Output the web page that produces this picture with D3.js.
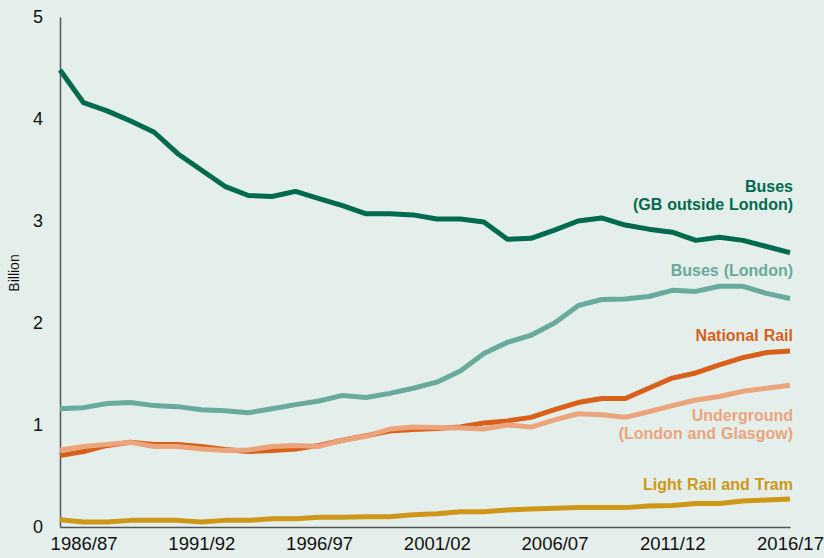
<!DOCTYPE html>
<html>
<head>
<meta charset="utf-8">
<script src="https://cdn.jsdelivr.net/npm/d3@7"></script>
<style>
  html, body { margin: 0; padding: 0; background: #e4efeb; }
  svg { display: block; }
  text { font-family: "Liberation Sans", Arial, sans-serif; }
</style>
</head>
<body>
<svg id="chart" width="824" height="558"></svg>
<script>
// Years 1985/86 .. 2016/17
const years = ["1985/86","1986/87","1987/88","1988/89","1989/90","1990/91","1991/92","1992/93","1993/94","1994/95",
  "1995/96","1996/97","1997/98","1998/99","1999/00","2000/01","2001/02","2002/03","2003/04","2004/05",
  "2005/06","2006/07","2007/08","2008/09","2009/10","2010/11","2011/12","2012/13","2013/14","2014/15",
  "2015/16","2016/17"];
const tickLabels = ["1986/87","1991/92","1996/97","2001/02","2006/07","2011/12","2016/17"];
const yTicks = [0,1,2,3,4,5];

const busesGB = [4.48,4.16,4.08,3.98,3.87,3.66,3.50,3.34,3.25,3.24,3.29,3.22,3.15,3.07,3.07,3.06,
  3.02,3.02,2.99,2.82,2.83,2.91,3.00,3.03,2.96,2.92,2.89,2.81,2.84,2.81,2.75,2.69];
const busesLondon = [1.16,1.17,1.21,1.22,1.19,1.18,1.15,1.14,1.12,1.16,1.20,1.235,1.29,1.27,1.31,1.36,
  1.42,1.53,1.70,1.81,1.88,2.00,2.17,2.23,2.235,2.26,2.32,2.31,2.36,2.36,2.29,2.24];
const nationalRail = [0.70,0.74,0.80,0.83,0.81,0.81,0.79,0.76,0.74,0.75,0.765,0.80,0.85,0.895,0.94,0.955,
  0.965,0.98,1.02,1.04,1.075,1.15,1.22,1.26,1.26,1.36,1.46,1.51,1.59,1.66,1.71,1.725];
const underground = [0.755,0.79,0.81,0.83,0.79,0.79,0.765,0.75,0.755,0.79,0.80,0.79,0.85,0.89,0.96,0.98,
  0.975,0.97,0.96,1.00,0.98,1.05,1.11,1.10,1.075,1.13,1.19,1.245,1.28,1.33,1.36,1.39];
const lightRail = [0.07,0.05,0.05,0.065,0.065,0.065,0.05,0.065,0.065,0.08,0.08,0.095,0.095,0.10,0.10,0.12,
  0.13,0.15,0.15,0.167,0.176,0.183,0.19,0.19,0.19,0.205,0.21,0.23,0.23,0.255,0.265,0.275];

const seriesNames = ["Light Rail and Tram","National Rail","Underground","Buses (London)","Buses (GB outside London)"];
const seriesData = [lightRail, nationalRail, underground, busesLondon, busesGB];
const seriesColors = ["#cf9718","#d8601b","#eca47c","#68aa9b","#006a4f"];
const labelLines = [["Light Rail and Tram"],["National Rail"],["Underground","(London and Glasgow)"],["Buses (London)"],["Buses","(GB outside London)"]];
const labelBaselines = [490, 341, 421, 276, 192];

const svg = d3.select("#chart");
const x = d3.scalePoint().domain(years).range([60, 790]);
const y = d3.scaleLinear().domain([0, 5]).range([527, 17]);

// axes
const xAxis = svg.append("g").attr("transform", "translate(0,527)")
  .call(d3.axisBottom(x).tickValues(tickLabels).tickSize(0).tickPadding(10));
xAxis.select(".domain").attr("stroke", "#555").attr("stroke-width", 1.5);
xAxis.selectAll("text").attr("font-size", "18.5px").attr("fill", "#111")
  .style("font-family", "'Liberation Sans', Arial, sans-serif");

const yAxis = svg.append("g").attr("transform", "translate(60,0)")
  .call(d3.axisLeft(y).tickValues(yTicks).tickSize(0).tickPadding(17).tickFormat(d3.format("d")));
yAxis.select(".domain").attr("stroke", "#555").attr("stroke-width", 1.5);
yAxis.selectAll("text").attr("font-size", "18px").attr("fill", "#111")
  .style("font-family", "'Liberation Sans', Arial, sans-serif");

svg.append("text").attr("transform", "translate(19,273) rotate(-90)")
  .attr("text-anchor", "middle").attr("font-size", "14px").attr("fill", "#111").text("Billion");

const line = d3.line().x((d, i) => x(years[i])).y(d => y(d));

seriesData.forEach((data, k) => {
  svg.append("path").datum(data)
    .attr("fill", "none").attr("stroke", seriesColors[k]).attr("stroke-width", 5)
    .attr("stroke-linejoin", "round")
    .attr("d", line);
});

labelLines.forEach((lines, k) => {
  const t = svg.append("text").attr("text-anchor", "end").attr("font-size", "16px")
    .attr("font-weight", "bold").attr("fill", seriesColors[k]).attr("word-spacing", "0.5px");
  lines.forEach((s, j) => {
    t.append("tspan").attr("x", 793).attr("y", labelBaselines[k] + j * 18).text(s);
  });
});
</script>
</body>
</html>
